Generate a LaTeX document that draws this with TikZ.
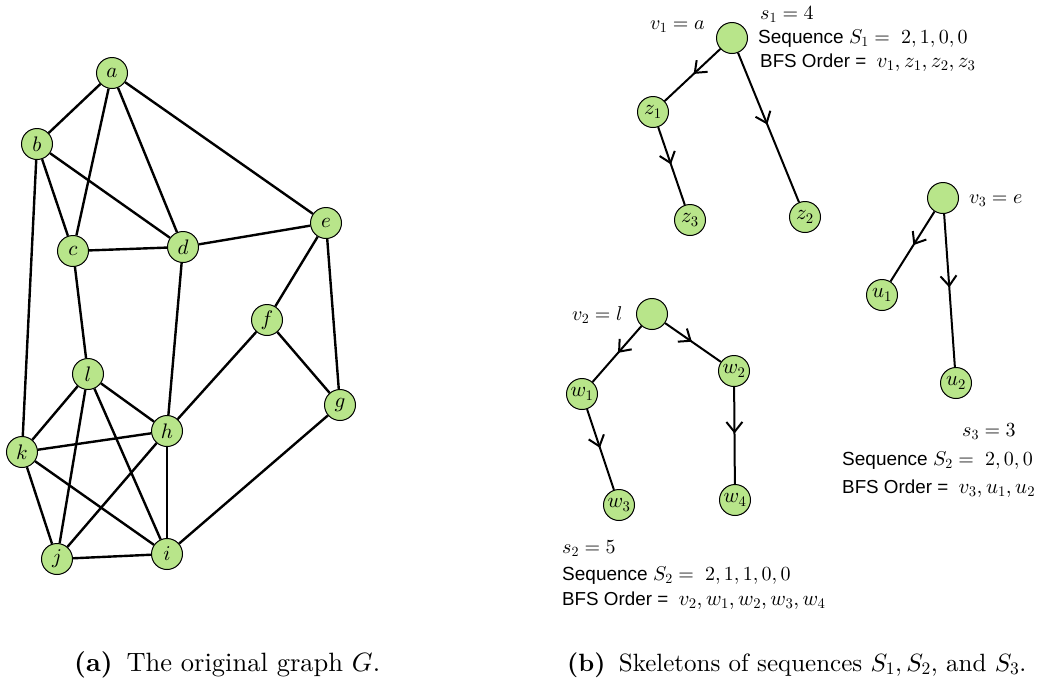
\documentclass[tikz,border=0pt]{standalone}
\usepackage{fontspec}
\setmainfont{lmroman10-regular.otf}[BoldFont=lmroman10-bold.otf,ItalicFont=lmroman10-italic.otf]
\setsansfont{Liberation Sans}
\DeclareFontShape{OML}{cmm}{m}{it}{<->cmmi10}{}
\DeclareFontShape{OT1}{cmr}{m}{n}{<->cmr10}{}
\DeclareFontShape{OMS}{cmsy}{m}{n}{<->cmsy10}{}
\usetikzlibrary{arrows.meta,decorations.markings}
\definecolor{nodegreen}{RGB}{184,229,138}
\tikzset{
 gnode/.style={circle,draw=black,line width=1pt,fill=nodegreen,minimum size=31pt,inner sep=0pt,font=\fontsize{21}{21}\selectfont},
 gedge/.style={line width=2.4pt},
 tedge/.style={line width=2pt, postaction={decorate}, decoration={markings, mark=at position 0.48 with {\arrow{Straight Barb[length=10pt,width=16pt,line width=2pt]}}}},
 lbl/.style={inner sep=0pt, anchor=base west, font=\fontsize{20}{24}\selectfont},
 txt/.style={inner sep=0pt, anchor=base west},
 captxt/.style={inner sep=0pt, anchor=base west, font=\fontsize{25}{28}\selectfont}
}
\newcommand{\seqfont}{\sffamily\fontsize{19}{22}\selectfont}
\newcommand{\bfsfont}{\sffamily\fontsize{18.8}{22}\selectfont}
\newcommand{\mfont}{\fontsize{20}{24}\selectfont}
\newcommand{\bmfont}{\fontsize{21}{24}\selectfont}
\begin{document}
\begin{tikzpicture}[x=1pt,y=-1pt]
\useasboundingbox (0,0) rectangle (1057,681);
% ---------- (a) original graph ----------
\node[gnode] (a) at (112,73) {$a$};
\node[gnode] (b) at (37,144) {$b$};
\node[gnode] (c) at (73,251) {$c$};
\node[gnode] (d) at (183,247) {$d$};
\node[gnode] (e) at (326,223) {$e$};
\node[gnode] (f) at (267,320) {$f$};
\node[gnode] (g) at (340,405) {$g$};
\node[gnode] (l) at (88,374) {$l$};
\node[gnode] (h) at (167,431) {$h$};
\node[gnode] (k) at (22,452) {$k$};
\node[gnode] (j) at (57,559) {$j$};
\node[gnode] (i) at (167,554) {$i$};
\foreach \u/\v in {a/b,a/c,a/d,a/e,b/c,b/d,b/k,c/d,c/l,d/e,d/h,e/f,e/g,f/h,f/g,g/i,l/k,l/h,l/j,l/i,h/k,h/j,h/i,k/j,k/i,j/i}
  \draw[gedge] (\u) -- (\v);
% ---------- (b) skeletons ----------
\node[gnode] (v1) at (732,38) {};
\node[gnode] (z1) at (653,112) {$z_1$};
\node[gnode] (z3) at (690,220) {$z_3$};
\node[gnode] (z2) at (805,217) {$z_2$};
\draw[tedge] (v1) -- (z1);
\draw[tedge] (v1) -- (z2);
\draw[tedge] (z1) -- (z3);
\node[lbl] (lv1) at (650,29) {$v_1 = a$};
\node[lbl] (ls1) at (760,19) {$s_1 = 4$};
\node[txt] (q1) at (758,43) {\seqfont Sequence \mfont$S_1 =$\ \ $2,1,0,0$};
\node[txt] (o1) at (760,67) {\bfsfont BFS Order =\ \ \bmfont$v_1, z_1, z_2, z_3$};

\node[gnode] (v3) at (943,198) {};
\node[gnode] (u1) at (882,295) {$u_1$};
\node[gnode] (u2) at (956,383) {$u_2$};
\draw[tedge] (v3) -- (u1);
\draw[tedge] (v3) -- (u2);
\node[lbl] (lv3) at (969,203) {$v_3 = e$};
\node[lbl] (ls3) at (962,436) {$s_3 = 3$};
\node[txt] (q3) at (842,465) {\seqfont Sequence \mfont$S_2 =$\ \ $2,0,0$};
\node[txt] (o3) at (842,493) {\bfsfont BFS Order =\ \ \bmfont$v_3, u_1, u_2$};

\node[gnode] (v2) at (652,314) {};
\node[gnode] (w1) at (582,394) {$w_1$};
\node[gnode] (w2) at (734,371) {$w_2$};
\node[gnode] (w3) at (619,505) {$w_3$};
\node[gnode] (w4) at (735,500) {$w_4$};
\draw[tedge] (v2) -- (w1);
\draw[tedge] (v2) -- (w2);
\draw[tedge] (w1) -- (w3);
\draw[tedge] (w2) -- (w4);
\node[lbl] (lv2) at (572,320) {$v_2 = l$};
\node[lbl] (ls2) at (562,553) {$s_2 = 5$};
\node[txt] (q2) at (562,580) {\seqfont Sequence \mfont$S_2 =$\ \ $2,1,1,0,0$};
\node[txt] (o2) at (562,605) {\bfsfont BFS Order =\ \ \bmfont$v_2, w_1, w_2, w_3, w_4$};
% ---------- captions ----------
\node[captxt,font=\fontsize{26.5}{30}\selectfont] (capa) at (74,671) {\textbf{(a)}\hspace{5pt} The original graph $G$.};
\node[captxt] (capb) at (567,671) {\textbf{(b)}\hspace{5pt} Skeletons of sequences $S_1, S_2$, and $S_3$.};
\end{tikzpicture}
\end{document}
